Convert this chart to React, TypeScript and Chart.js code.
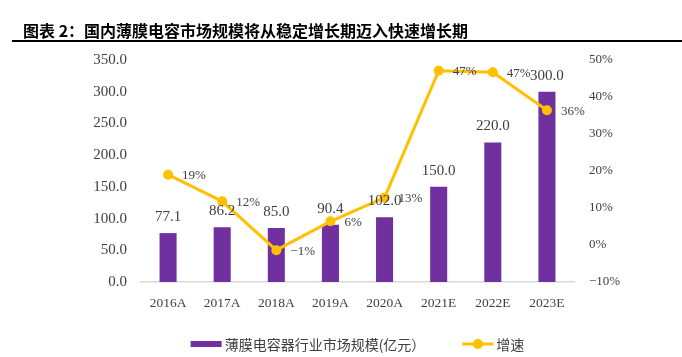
import React, { useEffect, useRef } from "react";
import { Chart, registerables } from "chart.js";

Chart.register(...registerables);

const categories = ["2016A", "2017A", "2018A", "2019A", "2020A", "2021E", "2022E", "2023E"];
const marketSize = [77.1, 86.2, 85.0, 90.4, 102.0, 150.0, 220.0, 300.0];
const growthRate = [19, 11.8, -1.4, 6.4, 12.8, 47.1, 46.7, 36.4];
const leftTicks = { min: 0, max: 350, step: 50 };
const rightTicks = { min: -10, max: 50, step: 10 };

const TITLE = "图表 2：国内薄膜电容市场规模将从稳定增长期迈入快速增长期";
const BAR_LABEL = "薄膜电容器行业市场规模(亿元）";
const LINE_LABEL = "增速";

const BAR_COLOR = "#7030A0";
const LINE_COLOR = "#FFC000";
const TEXT_COLOR = "#404040";
const NUM_FONT = "'Liberation Serif', 'Times New Roman', serif";
const CJK_FONT = "'Noto Sans CJK SC', sans-serif";

const fmtPct = (v: number) => {
  const r = Math.round(v);
  return (r < 0 ? "\u2212" + Math.abs(r) : String(r)) + "%";
};

const decorPlugin = {
  id: "decor",
  beforeDraw(chart: any) {
    const ctx = chart.ctx;
    ctx.save();
    ctx.fillStyle = "#ffffff";
    ctx.fillRect(0, 0, chart.width, chart.height);
    ctx.fillStyle = "#000000";
    ctx.font = `bold 16px ${CJK_FONT}`;
    ctx.textBaseline = "middle";
    ctx.textAlign = "left";
    ctx.fillText(TITLE, 23, 31);
    ctx.strokeStyle = "#000000";
    ctx.lineWidth = 2;
    ctx.beginPath();
    ctx.moveTo(12, 41);
    ctx.lineTo(chart.width, 41);
    ctx.stroke();
    ctx.restore();
  },
  afterDatasetsDraw(chart: any) {
    const ctx = chart.ctx;
    ctx.save();
    ctx.fillStyle = TEXT_COLOR;
    const barMeta = chart.getDatasetMeta(1);
    ctx.font = `15px ${NUM_FONT}`;
    ctx.textAlign = "center";
    ctx.textBaseline = "middle";
    barMeta.data.forEach((el: any, i: number) => {
      ctx.fillText(marketSize[i].toFixed(1), el.x, el.y - 16);
    });
    const lineMeta = chart.getDatasetMeta(0);
    ctx.font = `13px ${NUM_FONT}`;
    ctx.textAlign = "left";
    lineMeta.data.forEach((el: any, i: number) => {
      ctx.fillText(fmtPct(growthRate[i]), el.x + 14, el.y + 1);
    });
    ctx.restore();
  },
  afterDraw(chart: any) {
    const ctx = chart.ctx;
    ctx.save();
    ctx.font = `14px ${CJK_FONT}`;
    ctx.textBaseline = "middle";
    ctx.textAlign = "left";
    const w1 = ctx.measureText(BAR_LABEL).width;
    const w2 = ctx.measureText(LINE_LABEL).width;
    const box = 31;
    const gap = 3;
    const between = 37;
    const total = box + gap + w1 + between + box + gap + w2;
    const cx = (chart.chartArea.left + chart.chartArea.right) / 2;
    let x = cx - total / 2;
    const y = 344;
    ctx.fillStyle = BAR_COLOR;
    ctx.fillRect(x, y - 3, box, 6);
    x += box + gap;
    ctx.fillStyle = TEXT_COLOR;
    ctx.fillText(BAR_LABEL, x, y + 1);
    x += w1 + between;
    ctx.strokeStyle = LINE_COLOR;
    ctx.lineWidth = 3;
    ctx.beginPath();
    ctx.moveTo(x, y);
    ctx.lineTo(x + box, y);
    ctx.stroke();
    ctx.fillStyle = LINE_COLOR;
    ctx.beginPath();
    ctx.arc(x + box / 2, y, 5, 0, Math.PI * 2);
    ctx.fill();
    x += box + gap;
    ctx.fillStyle = TEXT_COLOR;
    ctx.fillText(LINE_LABEL, x, y + 1);
    ctx.restore();
  },
};

export default function App() {
  const ref = useRef<HTMLCanvasElement | null>(null);
  useEffect(() => {
    if (!ref.current) return;
    const chart = new Chart(ref.current, {
      type: "bar",
      data: {
        labels: categories,
        datasets: [
          {
            type: "line",
            label: LINE_LABEL,
            data: growthRate,
            yAxisID: "y1",
            borderColor: LINE_COLOR,
            backgroundColor: LINE_COLOR,
            borderWidth: 3,
            pointRadius: 5,
            pointBorderWidth: 0,
            pointBackgroundColor: LINE_COLOR,
            tension: 0,
            order: 0,
          } as any,
          {
            type: "bar",
            label: BAR_LABEL,
            data: marketSize,
            yAxisID: "y",
            backgroundColor: BAR_COLOR,
            barPercentage: 0.315,
            categoryPercentage: 1,
            order: 1,
          },
        ],
      },
      options: {
        responsive: false,
        animation: false,
        devicePixelRatio: 1,
        layout: { padding: { top: 60, bottom: 45, left: 0, right: 0 } },
        plugins: {
          legend: { display: false },
          tooltip: { enabled: false },
          title: { display: false },
        },
        scales: {
          x: {
            grid: { display: false, drawTicks: false },
            border: { display: true, color: "#D9D9D9", width: 1.5 },
            ticks: {
              color: TEXT_COLOR,
              font: { family: NUM_FONT, size: 13.5 },
              padding: 13,
              maxRotation: 0,
            },
            afterFit: (s: any) => {
              s.height = 30;
            },
          },
          y: {
            position: "left",
            min: leftTicks.min,
            max: leftTicks.max,
            grid: { display: false, drawTicks: false },
            border: { display: false },
            ticks: {
              stepSize: leftTicks.step,
              color: TEXT_COLOR,
              font: { family: NUM_FONT, size: 15 },
              padding: 14,
              callback: (v: any) => Number(v).toFixed(1),
            },
            afterFit: (s: any) => {
              s.width = 141;
            },
          },
          y1: {
            position: "right",
            min: rightTicks.min,
            max: rightTicks.max,
            grid: { display: false, drawTicks: false },
            border: { display: false },
            ticks: {
              stepSize: rightTicks.step,
              color: TEXT_COLOR,
              font: { family: NUM_FONT, size: 13 },
              padding: 15,
              callback: (v: any) => fmtPct(Number(v)),
            },
            afterFit: (s: any) => {
              s.width = 108;
            },
          },
        },
      },
      plugins: [decorPlugin],
    });
    return () => chart.destroy();
  }, []);
  return (
    <div style={{ position: "fixed", left: 0, top: 0, width: 682, height: 357, background: "#fff" }}>
      <canvas ref={ref} width={682} height={357} style={{ display: "block" }} />
    </div>
  );
}
